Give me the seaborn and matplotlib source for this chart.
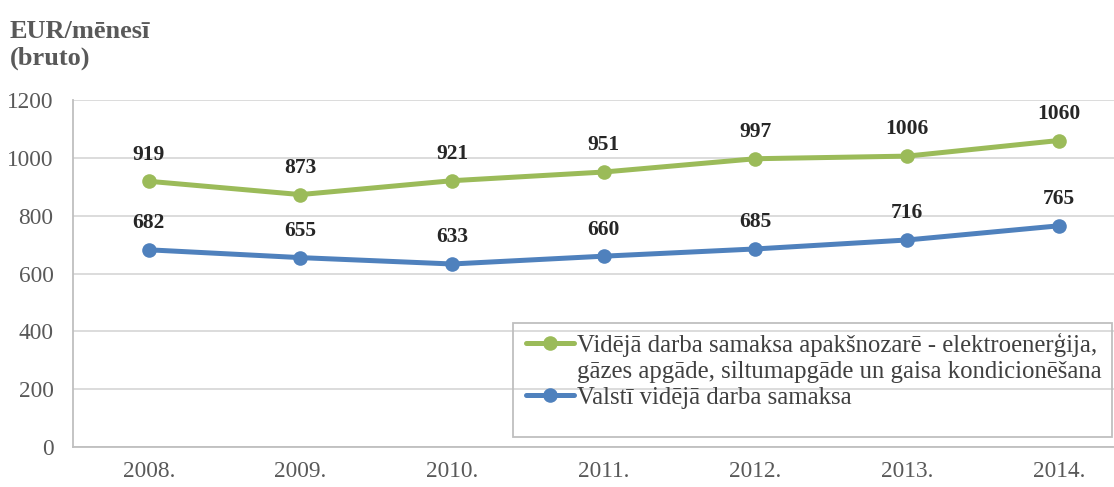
import pandas as pd
import seaborn as sns
import matplotlib.pyplot as plt
from matplotlib.lines import Line2D
from matplotlib.patches import Rectangle

years = ["2008.", "2009.", "2010.", "2011.", "2012.", "2013.", "2014."]
energy = [919, 873, 921, 951, 997, 1006, 1060]
national = [682, 655, 633, 660, 685, 716, 765]

energy_label = "Vidējā darba samaksa apakšnozarē - elektroenerģija,"
energy_label2 = "gāzes apgāde, siltumapgāde un gaisa kondicionēšana"
national_label = "Valstī vidējā darba samaksa"

df = pd.DataFrame({
    "year": years * 2,
    "value": energy + national,
    "series": [energy_label] * len(years) + [national_label] * len(years),
})

sns.set_style("white")
SERIF = ["Liberation Serif", "DejaVu Serif"]
plt.rcParams["font.family"] = SERIF

fig = plt.figure(figsize=(11.14, 4.87), dpi=100)
ax = fig.add_axes([0.0655, 0.0821, 0.953, 0.7125])

palette = {energy_label: "#9BBB59", national_label: "#4F81BD"}
sns.lineplot(data=df, x="year", y="value", hue="series", palette=palette,
             marker="o", markersize=10.5, markeredgewidth=0, linewidth=3.6,
             sort=False, ax=ax)

# data labels
for vals in (energy, national):
    for i, v in enumerate(vals):
        ax.annotate(str(v), (i, v), xytext=(0, 12), textcoords="offset points",
                    ha="center", va="bottom", fontsize=15.5, fontweight="bold",
                    color="#262626", family=SERIF)

ax.set_xlim(-0.5, 6.5)
ax.set_ylim(0, 1200)
ax.set_yticks(range(0, 1201, 200))
ax.yaxis.grid(True, color="#d9d9d9", linewidth=1.3)
ax.set_xlabel("")
ax.set_ylabel("")
for s in ("top", "right"):
    ax.spines[s].set_visible(False)
for s in ("left", "bottom"):
    ax.spines[s].set_color("#bfbfbf")
    ax.spines[s].set_linewidth(1.3)
ax.tick_params(axis="both", length=0, labelsize=16.8, labelcolor="#595959")
ax.tick_params(axis="x", pad=10)
ax.tick_params(axis="y", pad=14)
for lab in ax.get_xticklabels() + ax.get_yticklabels():
    lab.set_family(SERIF)

fig.text(0.009, 0.935, "EUR/mēnesī", fontsize=19, fontweight="bold",
         color="#595959", va="center", family=SERIF)
fig.text(0.009, 0.880, "(bruto)", fontsize=19, fontweight="bold",
         color="#595959", va="center", family=SERIF)

# legend: first label split over two rows, handle on the first row
handles, labels = ax.get_legend_handles_labels()
hmap = dict(zip(labels, handles))
blank = Line2D([], [], linestyle="none", marker=None)
leg = ax.legend([hmap[energy_label], blank, hmap[national_label]],
                [energy_label, energy_label2, national_label],
                loc="upper left", bbox_to_anchor=(526 / 1114, 1 - 333 / 487),
                bbox_transform=fig.transFigure,
                prop={"family": SERIF, "size": 17.8}, frameon=False,
                borderpad=0.0, handlelength=1.95, handletextpad=0.12,
                labelspacing=0.15, borderaxespad=0)
for t in leg.get_texts():
    t.set_color("#404040")

# legend box
fig.patches.append(Rectangle((513 / 1114, 1 - 437 / 487), 599 / 1114, 114 / 487,
                             transform=fig.transFigure, fill=False,
                             edgecolor="#bfbfbf", linewidth=1.3, zorder=5))

fig.savefig("out.png", dpi=100)
